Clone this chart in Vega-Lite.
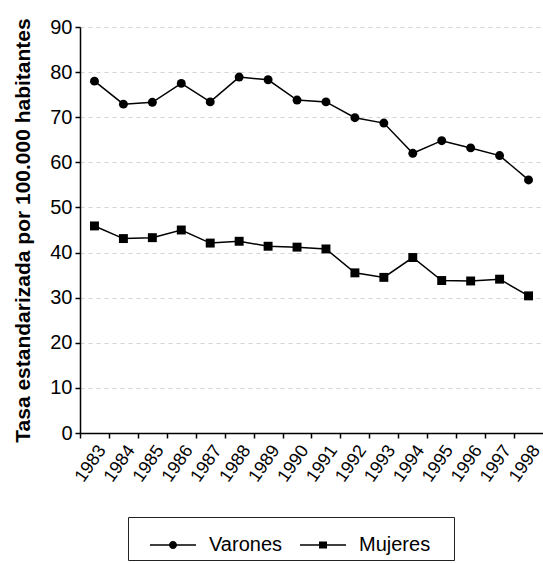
{
  "$schema": "https://vega.github.io/schema/vega-lite/v6.json",
  "width": 463,
  "height": 406,
  "autosize": "none",
  "padding": {"left": 80, "top": 27, "right": 0, "bottom": 131},
  "config": {
    "font": "Liberation Sans",
    "view": {"stroke": null}
  },
  "data": {
    "values": [
      {"year": 1983, "series": "Varones", "value": 78.0},
      {"year": 1984, "series": "Varones", "value": 72.9},
      {"year": 1985, "series": "Varones", "value": 73.3},
      {"year": 1986, "series": "Varones", "value": 77.5},
      {"year": 1987, "series": "Varones", "value": 73.4},
      {"year": 1988, "series": "Varones", "value": 78.9},
      {"year": 1989, "series": "Varones", "value": 78.3},
      {"year": 1990, "series": "Varones", "value": 73.8},
      {"year": 1991, "series": "Varones", "value": 73.4},
      {"year": 1992, "series": "Varones", "value": 69.9},
      {"year": 1993, "series": "Varones", "value": 68.7},
      {"year": 1994, "series": "Varones", "value": 62.0},
      {"year": 1995, "series": "Varones", "value": 64.8},
      {"year": 1996, "series": "Varones", "value": 63.2},
      {"year": 1997, "series": "Varones", "value": 61.5},
      {"year": 1998, "series": "Varones", "value": 56.1},
      {"year": 1983, "series": "Mujeres", "value": 45.9},
      {"year": 1984, "series": "Mujeres", "value": 43.1},
      {"year": 1985, "series": "Mujeres", "value": 43.3},
      {"year": 1986, "series": "Mujeres", "value": 45.0},
      {"year": 1987, "series": "Mujeres", "value": 42.1},
      {"year": 1988, "series": "Mujeres", "value": 42.5},
      {"year": 1989, "series": "Mujeres", "value": 41.4},
      {"year": 1990, "series": "Mujeres", "value": 41.2},
      {"year": 1991, "series": "Mujeres", "value": 40.8},
      {"year": 1992, "series": "Mujeres", "value": 35.5},
      {"year": 1993, "series": "Mujeres", "value": 34.5},
      {"year": 1994, "series": "Mujeres", "value": 38.9},
      {"year": 1995, "series": "Mujeres", "value": 33.8},
      {"year": 1996, "series": "Mujeres", "value": 33.7},
      {"year": 1997, "series": "Mujeres", "value": 34.1},
      {"year": 1998, "series": "Mujeres", "value": 30.4}
    ]
  },
  "encoding": {
    "x": {
      "field": "year",
      "type": "ordinal",
      "scale": {"type": "point", "padding": 0.5},
      "axis": {
        "title": null,
        "labelAngle": -55,
        "labelAlign": "right",
        "labelBaseline": "middle",
        "labelFontSize": 18,
        "labelColor": "black",
        "labelPadding": 9,
        "labelOverlap": false,
        "tickOffset": -14.47,
        "labelOffset": 22,
        "tickSize": 5,
        "tickColor": "black",
        "tickWidth": 1.5,
        "domainColor": "black",
        "domainWidth": 1.5,
        "grid": false
      }
    },
    "y": {
      "field": "value",
      "type": "quantitative",
      "scale": {"domain": [0, 90], "nice": false},
      "axis": {
        "title": "Tasa estandarizada por 100.000 habitantes",
        "titleFontSize": 21,
        "titleFontWeight": "bold",
        "titleColor": "black",
        "titlePadding": 16,
        "values": [0, 10, 20, 30, 40, 50, 60, 70, 80, 90],
        "labelFontSize": 20,
        "labelColor": "black",
        "labelPadding": 3,
        "tickSize": 5,
        "tickColor": "black",
        "tickWidth": 1.5,
        "domainColor": "black",
        "domainWidth": 1.5,
        "grid": true,
        "gridDash": [4, 4],
        "gridColor": "#d4d4d4",
        "gridWidth": 1
      }
    }
  },
  "layer": [
    {
      "mark": {"type": "line", "color": "black", "strokeWidth": 1.5},
      "encoding": {"detail": {"field": "series"}}
    },
    {
      "mark": {"type": "point", "filled": true, "opacity": 1, "color": "black", "size": 80},
      "encoding": {
        "shape": {
          "field": "series",
          "type": "nominal",
          "scale": {"domain": ["Varones", "Mujeres"], "range": ["circle", "square"]},
          "legend": null
        }
      }
    },
    {
      "transform": [{"filter": "datum.value < 0"}],
      "mark": {"type": "point", "filled": true, "color": "black", "opacity": 1},
      "encoding": {
        "shape": {
          "field": "series",
          "type": "nominal",
          "scale": {
            "domain": ["Varones", "Mujeres"],
            "range": [
              "M-0.273,-0.035L1.818,-0.035L1.818,0.035L-0.273,0.035ZM0.591,0A0.182,0.182,0,1,1,0.955,0A0.182,0.182,0,1,1,0.591,0Z",
              "M-0.273,-0.035L1.818,-0.035L1.818,0.035L-0.273,0.035ZM0.591,-0.16L0.955,-0.16L0.955,0.16L0.591,0.16Z"
            ]
          },
          "legend": {
            "orient": "none",
            "legendX": 48,
            "legendY": 490,
            "direction": "horizontal",
            "title": "\u00a0",
            "titleOrient": "right",
            "titleFontSize": 2,
            "titlePadding": 19,
            "padding": 5,
            "strokeColor": "#222222",
            "symbolSize": 1936,
            "symbolFillColor": "black",
            "symbolOpacity": 1,
            "labelFontSize": 20,
            "labelColor": "black",
            "labelOffset": 30,
            "columnPadding": 0
          }
        }
      }
    }
  ],
  "resolve": {"scale": {"shape": "independent"}}
}
